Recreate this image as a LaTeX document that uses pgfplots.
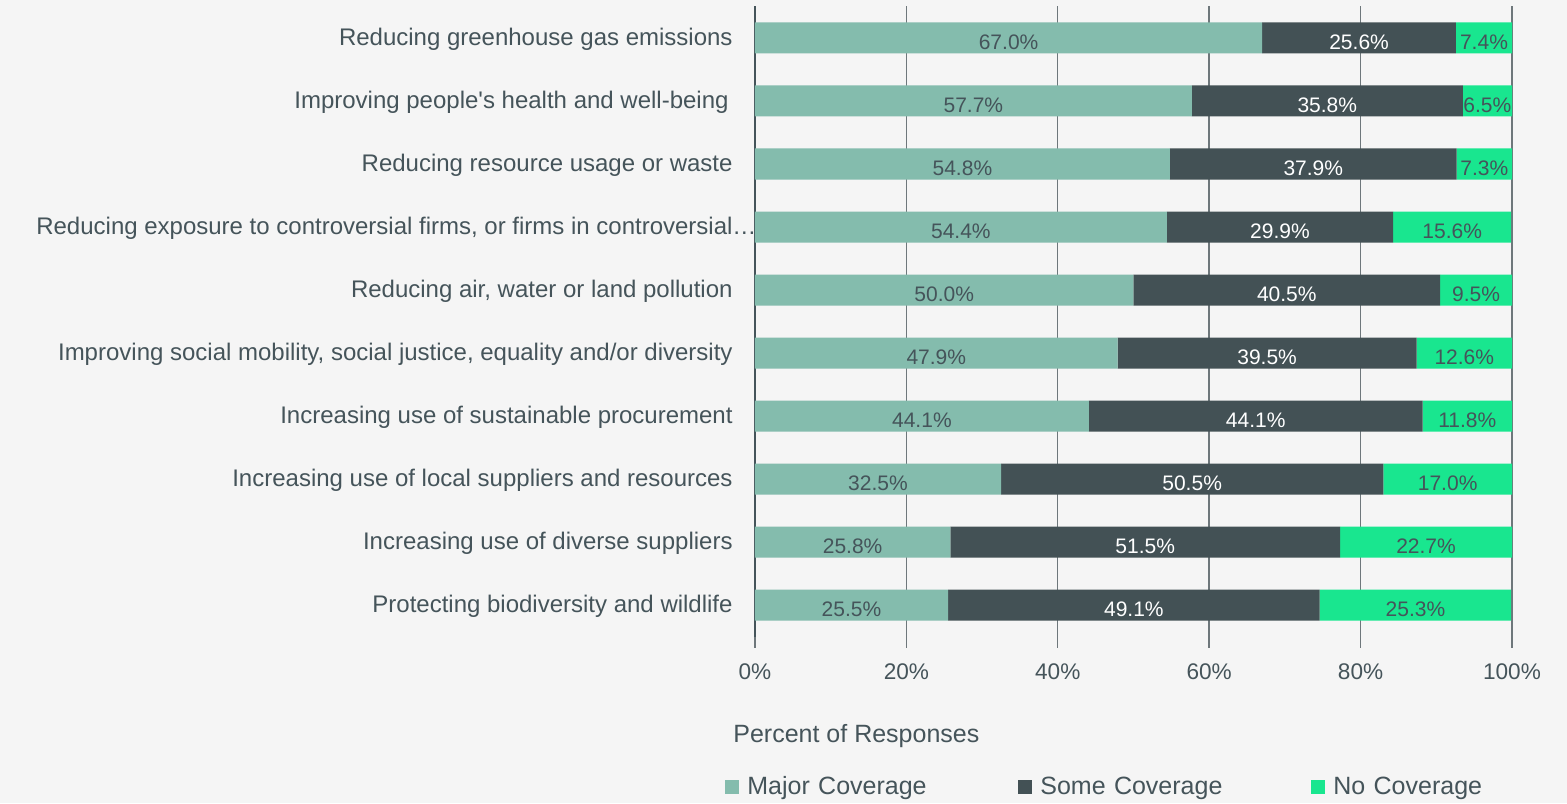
\documentclass[border=0pt]{standalone}
\usepackage{pgfplots}
\pgfplotsset{compat=1.18}
\usepackage{pgfplotstable}
\usepackage{fontspec}
\setmainfont{Liberation Sans}
\definecolor{cmajor}{HTML}{84BCAD}
\definecolor{csome}{HTML}{435155}
\definecolor{cno}{HTML}{19E68F}
\definecolor{ctext}{HTML}{45545A}
\definecolor{cbg}{HTML}{F5F5F5}
\definecolor{cgrid}{HTML}{6E777B}

\pgfplotstableread{
idx major some no
0 67.0 25.6 7.4
1 57.7 35.8 6.5
2 54.8 37.9 7.3
3 54.4 29.9 15.6
4 50.0 40.5 9.5
5 47.9 39.5 12.6
6 44.1 44.1 11.8
7 32.5 50.5 17.0
8 25.8 51.5 22.7
9 25.5 49.1 25.3
}\data

\begin{document}
\begin{tikzpicture}
\useasboundingbox (-377.5pt,-83.25pt) rectangle ++(783.5pt,401.5pt);
\fill[cbg] (-377.5pt,-83.25pt) rectangle ++(783.5pt,401.5pt);
\begin{axis}[
  xbar stacked,
  scale only axis,
  width=378.5pt, height=315pt,
  xmin=0, xmax=100, ymin=-0.5, ymax=9.5,
  y dir=reverse,
  bar width=15.5pt,
  axis y line*=left, axis x line*=bottom,
  x axis line style={draw=none},
  y axis line style={-, draw=ctext, line width=1.2pt},
  xmajorgrids, grid style={cgrid, line width=0.7pt},
  xtick={0,20,40,60,80,100},
  xticklabels={0\%,20\%,40\%,60\%,80\%,100\%},
  tick align=outside, major tick length=5.5pt,
  xtick style={cgrid, line width=0.7pt},
  xticklabel style={anchor=center, yshift=-12.25pt, text=ctext, font=\fontsize{11.3}{13}\selectfont},
  ytick={0,...,9},
  yticklabels={
    Reducing greenhouse gas emissions,
    Improving people\textquotesingle s health and well-being\hspace*{2pt},
    Reducing resource usage or waste,
    {Reducing exposure to controversial firms, or firms in controversial\rlap{…}},
    {Reducing air, water or land pollution},
    {Improving social mobility, social justice, equality and/or diversity},
    Increasing use of sustainable procurement,
    Increasing use of local suppliers and resources,
    Increasing use of diverse suppliers,
    Protecting biodiversity and wildlife},
  ytick style={draw=none},
  yticklabel style={anchor=east, inner sep=0pt, xshift=-5.5pt, yshift=-0.75pt, text=ctext, font=\fontsize{12}{14}\selectfont},
  xlabel={Percent of Responses},
  xlabel style={at={(-0.02906,-0.1579)}, anchor=west, inner sep=0pt, text=ctext, font=\fontsize{12.5}{14}\selectfont},
  legend columns=3,
  legend style={at={(-0.0396,-0.2389)}, anchor=west, draw=none, fill=none, inner sep=0pt, column sep=0pt,
    font=\fontsize{12.5}{14}\selectfont, text=ctext,
    nodes={text width=131.5pt, align=left, inner xsep=4pt, inner ysep=0pt}},
  legend image code/.code={\fill[#1] (0pt,-3.5pt) rectangle (7pt,3.5pt);},
  nodes near coords style={anchor=center, font=\fontsize{10.5}{12}\selectfont},
]
\addplot[fill=cmajor, draw=none,
  visualization depends on={\thisrow{major} \as \rawx},
  nodes near coords={\pgfmathprintnumber[fixed,fixed zerofill,precision=1,assume math mode=true]{\rawx}\%},
  nodes near coords style={text=ctext, yshift=-2pt}]
  table[x=major, y=idx] {\data};
\addlegendentry{Major Coverage}
\addplot[fill=csome, draw=none,
  visualization depends on={\thisrow{some} \as \rawx},
  nodes near coords={\pgfmathprintnumber[fixed,fixed zerofill,precision=1,assume math mode=true]{\rawx}\%},
  nodes near coords style={text=white, yshift=-2pt}]
  table[x=some, y=idx] {\data};
\addlegendentry{Some Coverage}
\addplot[fill=cno, draw=none,
  visualization depends on={\thisrow{no} \as \rawx},
  nodes near coords={\pgfmathprintnumber[fixed,fixed zerofill,precision=1,assume math mode=true]{\rawx}\%},
  nodes near coords style={text=ctext, yshift=-2pt}]
  table[x=no, y=idx] {\data};
\addlegendentry{No Coverage}
\end{axis}
\end{tikzpicture}
\end{document}
